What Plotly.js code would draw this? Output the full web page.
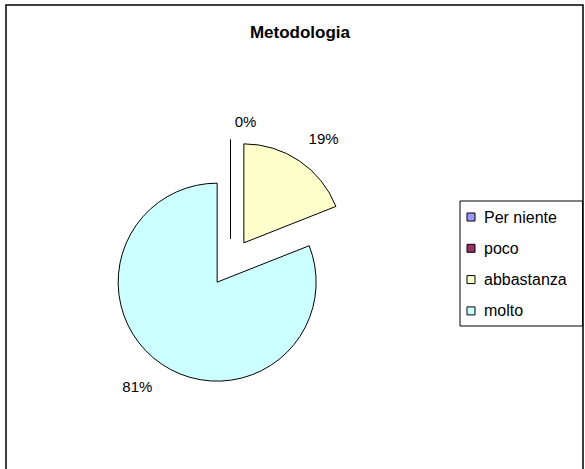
<!DOCTYPE html>
<html><head><meta charset="utf-8">
<script src="https://cdn.plot.ly/plotly-3.0.1.min.js"></script>
<style>html,body{margin:0;padding:0;background:#fff}#chart{width:585px;height:469px}
#chart path.textline{display:none !important}</style>
</head><body><div id="chart"></div>
<script>
const categories = ['Per niente', 'poco', 'abbastanza', 'molto'];
const values = [0, 0, 19, 81];
const colors = ['#9999FF', '#993366', '#FFFFCC', '#CCFFFF'];
const chartTitle = 'Metodologia';

const W = 585, H = 469;
const px = x => x / W, py = y => 1 - y / H;
const FONT = 'Liberation Sans, Arial, sans-serif';

// the two zero slices share one position; show their label once.
// an empty extra line keeps the other labels a little further from the pie edge
const labelTemplates = ['', '%{percent:.0%}', '%{percent:.0%}<br>&nbsp;', '&nbsp;<br>%{percent:.0%}'];

const trace = {
  type: 'pie', labels: categories, values: values, sort: false,
  direction: 'clockwise', rotation: 0,
  pull: categories.map(() => 0.24),
  marker: {colors: colors, line: {color: '#000', width: 1}},
  texttemplate: labelTemplates, textposition: 'outside',
  textfont: {family: FONT, size: 15, color: '#000'},
  domain: {x: [px(107.75), px(353.25)], y: [py(385.25), py(139.75)]},
  showlegend: false, hoverinfo: 'label+percent'
};

const shapes = [
  {type: 'rect', xref: 'paper', yref: 'paper', x0: px(6), x1: px(583), y0: py(5), y1: py(480),
   line: {color: '#000', width: 1.5}, fillcolor: 'rgba(0,0,0,0)'},
  {type: 'rect', xref: 'paper', yref: 'paper', x0: px(460), x1: px(582.5), y0: py(201), y1: py(326),
   line: {color: '#000', width: 1}, fillcolor: '#fff'}
];
const annotations = [];
categories.forEach((c, i) => {
  const yc = 217 + i * 31.3;
  shapes.push({type: 'rect', xref: 'paper', yref: 'paper', x0: px(467), x1: px(475), y0: py(yc - 4), y1: py(yc + 4),
    line: {color: '#000', width: 1}, fillcolor: colors[i]});
  annotations.push({xref: 'paper', yref: 'paper', x: px(482), y: py(yc), xanchor: 'left', yanchor: 'middle',
    text: c, showarrow: false, font: {family: FONT, size: 16, color: '#000'}});
});

const layout = {
  width: W, height: H, margin: {l: 0, r: 0, t: 0, b: 0},
  paper_bgcolor: '#fff', plot_bgcolor: '#fff',
  title: {text: chartTitle, x: px(300), y: py(32), xref: 'paper', yref: 'paper', xanchor: 'center', yanchor: 'middle',
    font: {family: FONT, size: 17, color: '#000', weight: 'bold'}},
  shapes: shapes, annotations: annotations, showlegend: false
};

Plotly.newPlot('chart', [trace], layout, {staticPlot: true});
</script></body></html>
